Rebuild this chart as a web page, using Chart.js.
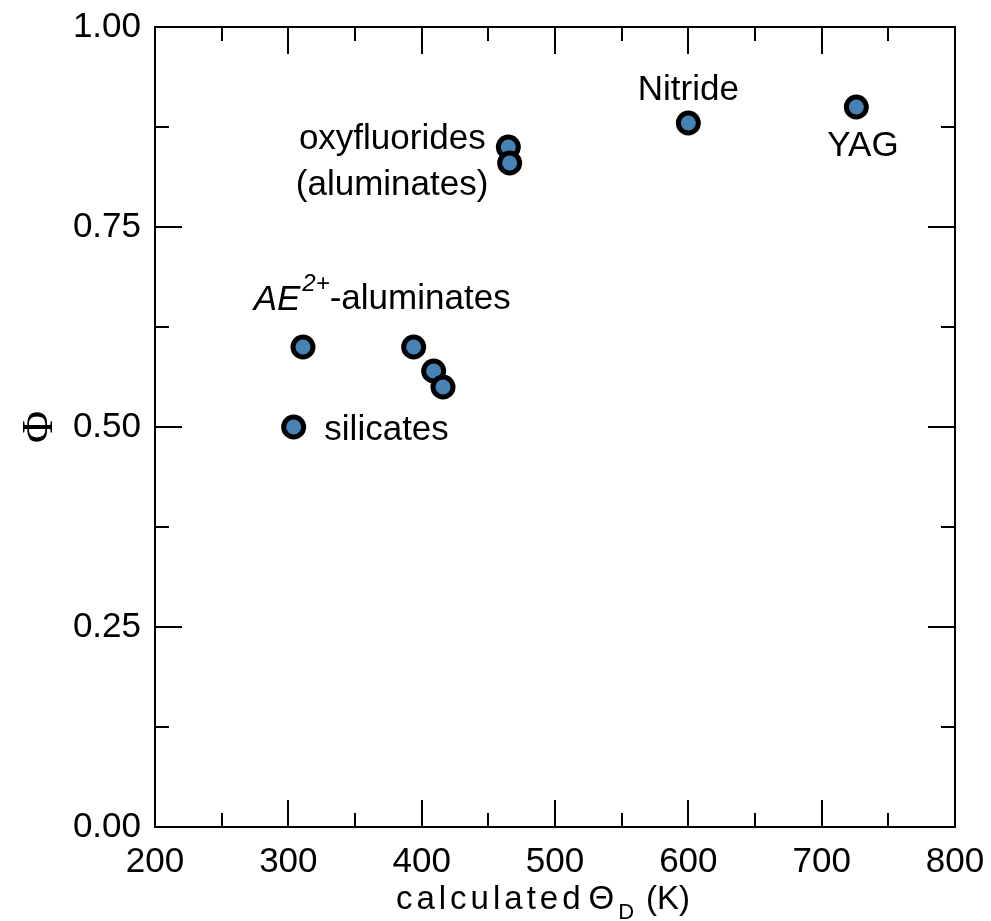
<!DOCTYPE html>
<html>
<head>
<meta charset="utf-8">
<script src="https://cdn.jsdelivr.net/npm/chart.js@4"></script>
<style>
  body { margin: 0; background: #fff; }
  #wrap { width: 991px; height: 921px; }
</style>
</head>
<body>
<div id="wrap"><canvas id="chart" width="991" height="921"></canvas></div>
<script>
// calculated Debye temperature (K) and quantum efficiency
const debyeTemp = [304, 311, 394, 409, 416, 465, 466, 600, 726];
const phiValues = [0.50, 0.60, 0.60, 0.57, 0.55, 0.85, 0.83, 0.88, 0.90];

const xTicks = [200, 300, 400, 500, 600, 700, 800];
const yTicks = [0.00, 0.25, 0.50, 0.75, 1.00];

// text labels placed in data coordinates
const labelText = ["Nitride", "YAG", "oxyfluorides", "(aluminates)", "silicates"];
const labelX = [600, 731, 448, 450, 327];
const labelY = [0.921, 0.851, 0.860, 0.802, 0.496];
const labelAlign = ["center", "center", "right", "right", "left"];

const FONT = "Liberation Sans, Arial, sans-serif";

const framePlugin = {
    id: "frame",
    beforeDatasetsDraw(chart) {
        const { ctx, chartArea: a, scales: { x, y } } = chart;
        ctx.save();
        ctx.strokeStyle = "#000";
        ctx.lineWidth = 2;
        ctx.strokeRect(a.left, a.top, a.right - a.left, a.bottom - a.top);
        ctx.beginPath();
        // x ticks, inward on bottom and top
        for (let v = x.min; v <= x.max + 1e-9; v += 50) {
            const px = Math.round(x.getPixelForValue(v));
            const len = (v % 100 === 0) ? 27 : 14;
            ctx.moveTo(px, a.bottom); ctx.lineTo(px, a.bottom - len);
            ctx.moveTo(px, a.top); ctx.lineTo(px, a.top + len);
        }
        // y ticks, inward on left and right
        for (let i = 0; i <= 8; i++) {
            const v = y.min + i * 0.125;
            const py = Math.round(y.getPixelForValue(v));
            const len = (i % 2 === 0) ? 27 : 14;
            ctx.moveTo(a.left, py); ctx.lineTo(a.left + len, py);
            ctx.moveTo(a.right, py); ctx.lineTo(a.right - len, py);
        }
        ctx.stroke();
        ctx.restore();
    },
    afterDraw(chart) {
        const { ctx, chartArea: a, scales: { x, y } } = chart;
        ctx.save();
        ctx.fillStyle = "#000";
        ctx.textBaseline = "middle";
        ctx.font = "35px " + FONT;
        labelText.forEach((t, i) => {
            ctx.textAlign = labelAlign[i];
            ctx.fillText(t, x.getPixelForValue(labelX[i]), y.getPixelForValue(labelY[i]));
        });

        // AE^{2+}-aluminates
        let px = x.getPixelForValue(274);
        const py = y.getPixelForValue(0.659);
        ctx.textAlign = "left";
        ctx.font = "italic 35px " + FONT;
        ctx.fillText("AE", px, py);
        px += ctx.measureText("AE").width + 2;
        ctx.font = "italic 24px " + FONT;
        ctx.fillText("2+", px, py - 15);
        px += ctx.measureText("2+").width;
        ctx.font = "35px " + FONT;
        ctx.fillText("-aluminates", px, py);

        // x axis title: calculated Θ_D (K)
        ctx.textBaseline = "alphabetic";
        const base = 909;
        // text, size, baseline shift, letter spacing, gap after
        const parts = [["calculated", 33, 0, 4, 4], ["\u0398", 33, 0, 0, 4], ["D", 22, 10, 0, 12], ["(K)", 33, 0, 0, 0]];
        const widthOf = p => {
            ctx.font = p[1] + "px " + FONT;
            ctx.letterSpacing = p[3] + "px";
            return ctx.measureText(p[0]).width;
        };
        let total = 0;
        parts.forEach(p => { total += widthOf(p) + p[4]; });
        let tx = (a.left + a.right) / 2 - total / 2 - 12;
        parts.forEach(p => {
            const w = widthOf(p);
            ctx.fillText(p[0], tx, base + p[2]);
            tx += w + p[4];
        });
        ctx.restore();
    }
};

new Chart(document.getElementById("chart"), {
    type: "scatter",
    data: {
        datasets: [{
            data: debyeTemp.map((t, i) => ({ x: t, y: phiValues[i] })),
            backgroundColor: "#4682b4",
            borderColor: "#000",
            borderWidth: 5,
            pointRadius: 10,
            pointHoverRadius: 10
        }]
    },
    options: {
        responsive: false,
        animation: false,
        layout: { padding: { top: 27, right: 36, left: 0, bottom: 0 } },
        plugins: { legend: { display: false }, tooltip: { enabled: false } },
        scales: {
            x: {
                type: "linear",
                min: 200, max: 800,
                afterBuildTicks: s => { s.ticks = xTicks.map(v => ({ value: v })); },
                grid: { display: false, drawTicks: false },
                border: { display: false },
                ticks: { color: "#000", font: { size: 35, family: FONT }, padding: 14, maxRotation: 0 },
                afterFit: s => { s.height = 94; s.paddingLeft = 0; s.paddingRight = 0; }
            },
            y: {
                type: "linear",
                min: 0, max: 1,
                afterBuildTicks: s => { s.ticks = yTicks.map(v => ({ value: v })); },
                grid: { display: false, drawTicks: false },
                border: { display: false },
                ticks: { color: "#000", font: { size: 35, family: FONT }, padding: 14,
                         callback: v => v.toFixed(2) },
                title: { display: true, text: "\u03A6", color: "#000",
                         font: { size: 44, family: "Liberation Serif, serif" },
                         padding: { top: 14, bottom: 0 } },
                afterFit: s => { s.width = 155; s.paddingTop = 0; s.paddingBottom = 0; }
            }
        }
    },
    plugins: [framePlugin]
});
</script>
</body>
</html>
